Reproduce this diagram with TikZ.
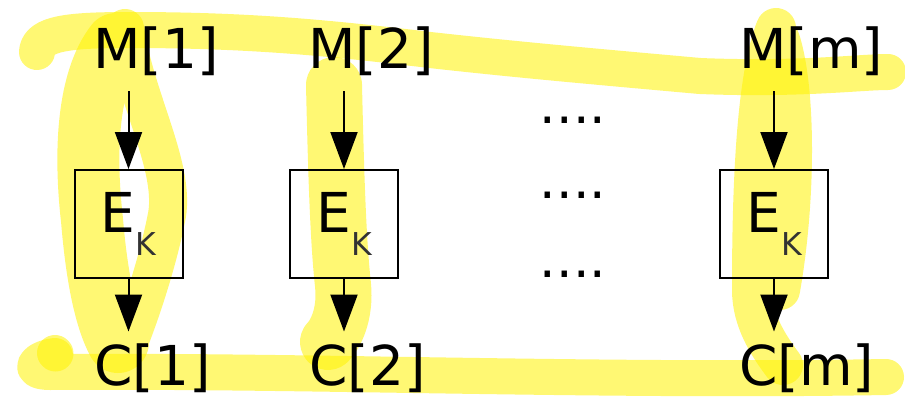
\documentclass[tikz,border=0pt]{standalone}
\usepackage{fontspec}
\setmainfont{DejaVu Sans}
\usetikzlibrary{arrows.meta}

\begin{document}
\begin{tikzpicture}[x=1pt,y=-1pt,
  hl/.style={draw=yellow, line cap=round, line join=round},
  hlgroup/.style={transparency group, opacity=0.55},
  blk/.style={draw, line width=2pt, minimum width=108pt, minimum height=108pt, inner sep=0pt,
    font=\fontsize{55}{60}\selectfont},
  lbl/.style={font=\fontsize{55}{60}\selectfont, anchor=base west, inner xsep=0pt},
  mlbl/.style={lbl, inner ysep=16pt},
  clbl/.style={lbl, inner ysep=0pt},
  dotrow/.style={font=\fontsize{52}{60}\selectfont, anchor=base, inner sep=0pt},
  arr/.style={line width=2pt, -{Triangle[length=37pt,width=27pt]}}]
\useasboundingbox (0,0) rectangle (905,399);
\begin{scope}[hlgroup]
\draw[hl, line width=36pt] (37,52) .. controls (38,33) and (70,30) .. (130,30)
  .. controls (250,30) and (330,38) .. (430,50) .. controls (520,60) and (600,67) .. (700,76)
  .. controls (800,80) and (860,72) .. (888,72);
\end{scope}
\begin{scope}[hlgroup]
\draw[hl, line width=36pt] (55,356) .. controls (35,358) and (25,372) .. (50,372)
  .. controls (300,370) and (600,382) .. (886,377);
\end{scope}
\begin{scope}[hlgroup]
\draw[hl, line width=36pt] (55,353) -- (55.5,353.5);
\end{scope}
\begin{scope}[hlgroup]
\draw[hl, line width=62pt] (116,44) .. controls (88,80) and (84,150) .. (92,220)
  .. controls (97,280) and (106,320) .. (118,342);
\draw[hl, line width=38pt] (125,28) .. controls (135,100) and (178,170) .. (166,220)
  .. controls (158,260) and (142,310) .. (128,345);
\end{scope}
\begin{scope}[hlgroup]
\draw[hl, line width=56pt] (334,85) .. controls (336,170) and (338,240) .. (343,285)
  .. controls (346,315) and (335,335) .. (328,342);
\end{scope}
\begin{scope}[hlgroup]
\draw[hl, line width=40pt] (776,28) .. controls (755,80) and (752,200) .. (752,290)
  .. controls (752,320) and (768,345) .. (783,365)
  (780,40) .. controls (796,90) and (796,200) .. (780,290);
\end{scope}

\node[blk] (E1) at (128.5,224) {E\raisebox{-23pt}{\fontsize{31.5}{32}\selectfont\color{black!80}K}};
\node[blk] (E2) at (344,224) {E\raisebox{-23pt}{\fontsize{31.5}{32}\selectfont\color{black!80}K}};
\node[blk] (Em) at (774,224) {E\raisebox{-23pt}{\fontsize{31.5}{32}\selectfont\color{black!80}K}};

\node[mlbl] (M1) at (93,68) {M[1]};
\node[mlbl] (M2) at (308,68) {M[2]};
\node[mlbl] (Mm) at (739,68) {M[m]};
\node[clbl] (C1) at (94,385.5) {C[1]};
\node[clbl] (C2) at (309,385.5) {C[2]};
\node[clbl] (Cm) at (739,385.5) {C[m]};

\node[dotrow] (d1) at (573,123) {....};
\node[dotrow] (d2) at (573,198) {....};
\node[dotrow] (d3) at (573,277) {....};

\draw[arr] (M1.south -| E1.north) -- (E1.north);
\draw[arr] (M2.south -| E2.north) -- (E2.north);
\draw[arr] (Mm.south -| Em.north) -- (Em.north);
\draw[arr, shorten >=12pt] (E1.south) -- (C1.north -| E1.south);
\draw[arr, shorten >=12pt] (E2.south) -- (C2.north -| E2.south);
\draw[arr, shorten >=12pt] (Em.south) -- (Cm.north -| Em.south);
\end{tikzpicture}
\end{document}
